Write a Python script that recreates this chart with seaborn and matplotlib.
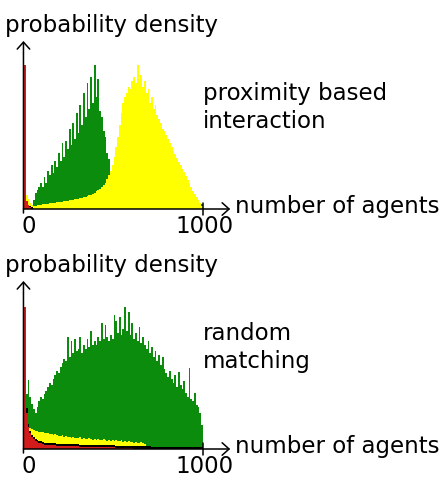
import numpy as np
import pandas as pd
import matplotlib
matplotlib.use("Agg")
import matplotlib.pyplot as plt
import seaborn as sns

# bins of 10 agents from 0 to 1000, heights in arbitrary density units
bin_edges = list(range(0, 1010, 10))

# proximity based interaction
prox_green = [0, 0, 0, 0, 0, 9, 16, 19, 22, 26,
              22, 32, 26, 38, 34, 44, 36, 48, 42, 56,
              48, 66, 52, 68, 60, 80, 64, 86, 70, 96,
              76, 104, 84, 116, 92, 126, 100, 132, 106, 144,
              112, 130, 98, 92, 78, 72, 56, 50, 36, 26,
              14, 0, 0, 0, 0, 0, 0, 0, 0, 0,
              0, 0, 0, 0, 0, 0, 0, 0, 0, 0,
              0, 0, 0, 0, 0, 0, 0, 0, 0, 0,
              0, 0, 0, 0, 0, 0, 0, 0, 0, 0,
              0, 0, 0, 0, 0, 0, 0, 0, 6, 5]
prox_yellow = [20, 14, 10, 6, 4, 3, 3, 4, 4, 4,
               5, 5, 5, 5, 6, 6, 6, 6, 7, 7,
               7, 7, 8, 8, 8, 9, 9, 9, 10, 10,
               10, 11, 11, 12, 12, 13, 14, 14, 15, 16,
               18, 19, 20, 22, 24, 26, 30, 34, 38, 44,
               52, 62, 72, 84, 96, 106, 112, 116, 122, 120,
               128, 132, 126, 144, 130, 134, 122, 128, 116, 120,
               106, 112, 100, 104, 94, 90, 86, 80, 78, 74,
               70, 66, 62, 58, 55, 51, 47, 44, 40, 37,
               33, 29, 26, 22, 18, 15, 12, 9, 6, 3]
prox_black = [0, 4, 3, 3, 2] + [0] * 95
prox_red = [144, 8, 4, 2] + [0] * 96

# random matching
rand_green = [0, 55, 69, 52, 45, 40, 36, 42, 48, 52,
              50, 55, 58, 62, 66, 64, 70, 74, 78, 76,
              82, 86, 90, 88, 112, 92, 108, 96, 110, 98,
              100, 112, 96, 104, 100, 110, 102, 118, 104, 108,
              104, 112, 108, 126, 110, 124, 112, 108, 114, 110,
              134, 128, 116, 132, 114, 120, 142, 118, 137, 114,
              126, 110, 116, 108, 122, 106, 112, 104, 100, 108,
              96, 102, 92, 98, 88, 94, 84, 92, 80, 76,
              72, 78, 70, 66, 74, 62, 77, 64, 60, 68,
              56, 52, 81, 50, 48, 56, 44, 42, 36, 24]
rand_yellow = [0, 30, 24, 21, 20, 19, 18, 18, 17, 17,
               17, 16, 16, 16, 15, 15, 14, 15, 14, 13,
               13, 14, 12, 13, 12, 12, 11, 12, 11, 11,
               11, 12, 10, 11, 10, 10, 11, 10, 9, 10,
               9, 10, 9, 9, 10, 9, 8, 9, 8, 9,
               8, 9, 8, 8, 9, 7, 8, 7, 8, 7,
               7, 6, 7, 6, 6, 7, 6, 5] + [0] * 32
rand_black = ([0, 41, 25, 18, 14, 12, 10, 9, 8, 8, 7]
              + [6] * 7 + [5] * 13 + [4] * 20 + [3] * 20 + [2] * 29)
rand_red = ([142, 36, 22, 16, 12, 10, 8, 7, 6, 6, 5]
            + [4] * 7 + [3] * 13 + [2] * 20 + [1] * 10 + [0] * 39)

panels = [
    (["proximity based", "interaction"], [prox_green, prox_yellow, prox_black, prox_red]),
    (["random", "matching"], [rand_green, rand_yellow, rand_black, rand_red]),
]
colors = ["#0c8c0c", "#ffff00", "#000000", "#d21c1c"]

sns.set_style("white")
plt.rcParams["font.family"] = ["DejaVu Sans"]
plt.rcParams["text.color"] = "black"

W, H = 441, 479
fig = plt.figure(figsize=(W / 100, H / 100), dpi=100)
centers = [e + 5 for e in bin_edges[:-1]]
fs = 16.5


def put(x, y, s, ha="left"):
    # x, y in pixels from the top-left corner, y is the text baseline
    fig.text(x / W, 1 - y / H, s, fontsize=fs, va="baseline", ha=ha,
             color="black")


for k, (label, series) in enumerate(panels):
    dy = 240 * k
    base = 209 + dy  # pixel row of the x axis
    ax = fig.add_axes([24 / W, (H - base) / H, 179 / W, 150 / H])
    for vals, c in zip(series, colors):
        df = pd.DataFrame({"agents": centers, "density": vals})
        sns.histplot(data=df, x="agents", weights="density", bins=bin_edges,
                     element="step", fill=True, color=c, alpha=1,
                     linewidth=0, ax=ax)
    ax.set_xlim(0, 1000)
    ax.set_ylim(0, 150)
    ax.axis("off")

    arrow = dict(arrowstyle="->,head_length=0.5,head_width=0.45",
                 mutation_scale=10, lw=1.1, color="black",
                 shrinkA=0, shrinkB=0)
    ax.annotate("", xy=(-3, 168), xytext=(-3, -4), arrowprops=arrow,
                annotation_clip=False)
    ax.annotate("", xy=(1152, 0), xytext=(-3, 0), arrowprops=arrow,
                annotation_clip=False)
    ax.plot([1000, 1000], [-6, 6], color="black", lw=1.1, clip_on=False)

    put(5, 32 + dy, "probability density")
    put(203, 100 + dy, label[0])
    put(203, 128 + dy, label[1])
    put(235, 213 + dy, "number of agents")
    put(28.5, 233 + dy, "0", ha="center")
    put(205, 233 + dy, "1000", ha="center")

fig.savefig("out.png", dpi=100, facecolor="white")
